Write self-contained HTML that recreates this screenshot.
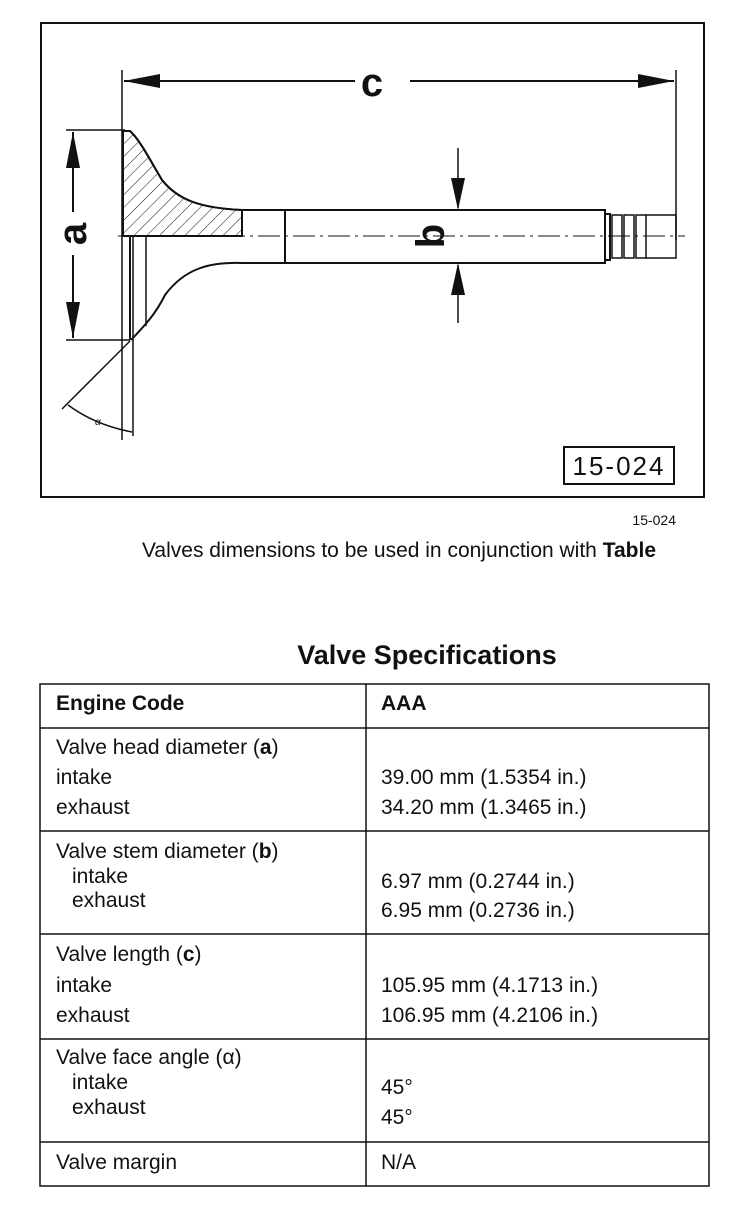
<!DOCTYPE html>
<html><head><meta charset="utf-8"><style>
html,body{margin:0;padding:0;background:#fff;}
svg{display:block;}
text{font-family:"Liberation Sans",Arial,sans-serif;fill:#111;}
</style></head><body>
<svg width="752" height="1220" viewBox="0 0 752 1220" xmlns="http://www.w3.org/2000/svg">
<defs>
<pattern id="h" width="9" height="9" patternUnits="userSpaceOnUse" patternTransform="rotate(45)">
<line x1="0" y1="0" x2="0" y2="9" stroke="#111" stroke-width="1"/>
</pattern>
</defs>
<rect x="41" y="23" width="663" height="474" fill="none" stroke="#111" stroke-width="2"/>
<g stroke="#111" fill="none" stroke-width="2">
<line x1="122" y1="70" x2="122" y2="440" stroke-width="1.5"/>
<line x1="676" y1="70" x2="676" y2="240" stroke-width="1.5"/>
<line x1="124" y1="81" x2="355" y2="81"/>
<line x1="410" y1="81" x2="674" y2="81"/>
<line x1="66" y1="130" x2="125" y2="130" stroke-width="1.5"/>
<line x1="66" y1="340" x2="130" y2="340" stroke-width="1.5"/>
<line x1="73" y1="132" x2="73" y2="212"/>
<line x1="73" y1="255" x2="73" y2="338"/>
<path d="M123,131 L130,131 C140,140 150,160 162,180 C178,200 200,208 242,210 L242,236 L123,236 Z" fill="url(#h)"/>
<path d="M123,131 L130,131 C140,140 150,160 162,180 C178,200 200,208 242,210 L285,210"/>
<path d="M242,210 L242,236"/>
<path d="M285,263 L242,263 C210,262 185,268 165,295 C155,315 145,325 131,340"/>
<line x1="130" y1="236" x2="130" y2="340"/>
<line x1="146" y1="236" x2="146" y2="326" stroke-width="1.5"/>
<rect x="285" y="210" width="320" height="53"/>
<path d="M605,214 L610,214 L610,260 L605,260" />
<rect x="612" y="215" width="10" height="43" stroke-width="1.5"/>
<rect x="624" y="215" width="10" height="43" stroke-width="1.5"/>
<rect x="636" y="215" width="10" height="43" stroke-width="1.5"/>
<path d="M646,215 L676,215 L676,258 L646,258" stroke-width="1.5"/>
<line x1="118" y1="236" x2="685" y2="236" stroke-width="1" stroke-dasharray="22,5,3,5"/>
<line x1="458" y1="148" x2="458" y2="208" stroke-width="1.5"/>
<line x1="458" y1="265" x2="458" y2="323" stroke-width="1.5"/>
<line x1="130" y1="341" x2="62" y2="409" stroke-width="1.5"/>
<line x1="133" y1="236" x2="133" y2="436" stroke-width="1.5"/>
<path d="M68,405 Q95,425 132,432" stroke-width="1.5"/>
<rect x="564" y="447" width="110" height="37" stroke-width="2"/>
</g>
<g fill="#111">
<polygon points="124,81 160,74 160,88"/>
<polygon points="674,81 638,74 638,88"/>
<polygon points="73,132 66,168 80,168"/>
<polygon points="73,338 66,302 80,302"/>
<polygon points="458,210 451,178 465,178"/>
<polygon points="458,263 451,295 465,295"/>
</g>
<text x="372" y="96" font-size="40" font-weight="bold" text-anchor="middle">c</text>
<text x="0" y="0" font-size="40" font-weight="bold" text-anchor="middle" transform="translate(86,234) rotate(-90)">a</text>
<text x="0" y="0" font-size="40" font-weight="bold" text-anchor="middle" transform="translate(444,236) rotate(-90)">b</text>
<text x="95" y="425" font-size="10" font-style="italic">α</text>
<text x="619" y="475" font-size="26" text-anchor="middle" letter-spacing="2">15-024</text>
<text x="676" y="525" font-size="14" text-anchor="end">15-024</text>
<text x="399" y="557" font-size="21" text-anchor="middle">Valves dimensions to be used in conjunction with <tspan font-weight="bold">Table</tspan></text>
<text x="427" y="664" font-size="27" font-weight="bold" text-anchor="middle">Valve Specifications</text>
<g stroke="#111" stroke-width="1.5" fill="none">
<rect x="40" y="684" width="669" height="502"/>
<line x1="366" y1="684" x2="366" y2="1186"/>
<line x1="40" y1="728" x2="709" y2="728"/>
<line x1="40" y1="831" x2="709" y2="831"/>
<line x1="40" y1="934" x2="709" y2="934"/>
<line x1="40" y1="1039" x2="709" y2="1039"/>
<line x1="40" y1="1142" x2="709" y2="1142"/>
</g>
<g font-size="21">
<text x="56" y="710" font-weight="bold">Engine Code</text>
<text x="381" y="710" font-weight="bold">AAA</text>
<text x="56" y="754">Valve head diameter (<tspan font-weight="bold">a</tspan>)</text>
<text x="56" y="784">intake</text>
<text x="56" y="814">exhaust</text>
<text x="381" y="784">39.00 mm (1.5354 in.)</text>
<text x="381" y="814">34.20 mm (1.3465 in.)</text>
<text x="56" y="858">Valve stem diameter (<tspan font-weight="bold">b</tspan>)</text>
<text x="72" y="883">intake</text>
<text x="72" y="907">exhaust</text>
<text x="381" y="888">6.97 mm (0.2744 in.)</text>
<text x="381" y="917">6.95 mm (0.2736 in.)</text>
<text x="56" y="961">Valve length (<tspan font-weight="bold">c</tspan>)</text>
<text x="56" y="992">intake</text>
<text x="56" y="1022">exhaust</text>
<text x="381" y="992">105.95 mm (4.1713 in.)</text>
<text x="381" y="1022">106.95 mm (4.2106 in.)</text>
<text x="56" y="1064">Valve face angle (α)</text>
<text x="72" y="1089">intake</text>
<text x="72" y="1114">exhaust</text>
<text x="381" y="1094">45°</text>
<text x="381" y="1124">45°</text>
<text x="56" y="1169">Valve margin</text>
<text x="381" y="1169">N/A</text>
</g>
</svg>
</body></html>
